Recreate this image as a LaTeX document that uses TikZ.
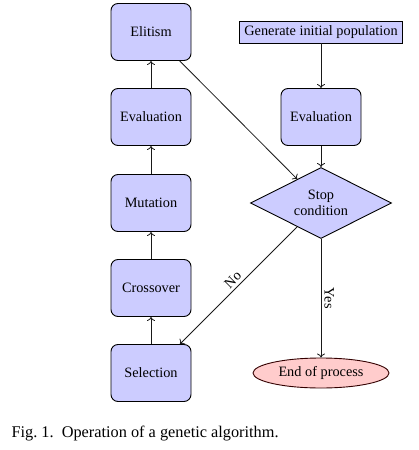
\documentclass[tikz,border=0pt]{standalone}
\usepackage{fontspec}
\setmainfont{Liberation Serif}
\usetikzlibrary{shapes.geometric,arrows.meta}
\tikzset{
  x=1pt, y=-1pt,
  txt/.style={font=\fontsize{14.3}{16.5}\selectfont},
  proc/.style={txt, draw=black, fill=blue!20, rounded corners=7pt, minimum width=80pt, minimum height=57pt, inner sep=0pt, line width=0.9pt},
  startbox/.style={txt, draw=black, fill=blue!20, minimum width=163pt, minimum height=22pt, inner sep=0pt, line width=0.9pt},
  decide/.style={txt, draw=black, fill=blue!20, diamond, aspect=2, minimum width=141pt, minimum height=71pt, inner sep=0pt, align=center, line width=0.9pt},
  term/.style={txt, draw=black!80!red, fill=red!20, ellipse, minimum width=136pt, minimum height=30pt, inner sep=0pt, line width=0.9pt},
  conn/.style={-{To[length=4pt,width=8pt]}, draw=black!90, line width=0.8pt},
  lbl/.style={txt, sloped, above, inner sep=3pt}
}
\begin{document}
\begin{tikzpicture}
\useasboundingbox (0,0) rectangle (419,450);
\node[proc] (eli) at (151,32) {Elitism};
\node[proc] (evl) at (151,117) {Evaluation};
\node[proc] (mut) at (151,203) {Mutation};
\node[proc] (cro) at (151,288) {Crossover};
\node[proc] (sel) at (151,373) {Selection};
\node[startbox] (gen) at (321,32) {Generate initial population};
\node[proc] (evr) at (321,117) {Evaluation};
\node[decide] (stop) at (321,203) {Stop\\condition};
\node[term] (end) at (321,373) {End of process};
\node[anchor=base west, font=\fontsize{16.3}{19}\selectfont] (cap) at (8,437) {Fig.~1.\ \ Operation of a genetic algorithm.};
\draw[conn] (sel) -- (cro);
\draw[conn] (cro) -- (mut);
\draw[conn] (mut) -- (evl);
\draw[conn] (evl) -- (eli);
\draw[conn] (eli) -- (stop);
\draw[conn] (gen) -- (evr);
\draw[conn] (evr) -- (stop);
\draw[conn] (stop) -- node[lbl] {No} (sel);
\draw[conn] (stop) -- node[lbl] {Yes} (end);
\end{tikzpicture}
\end{document}
